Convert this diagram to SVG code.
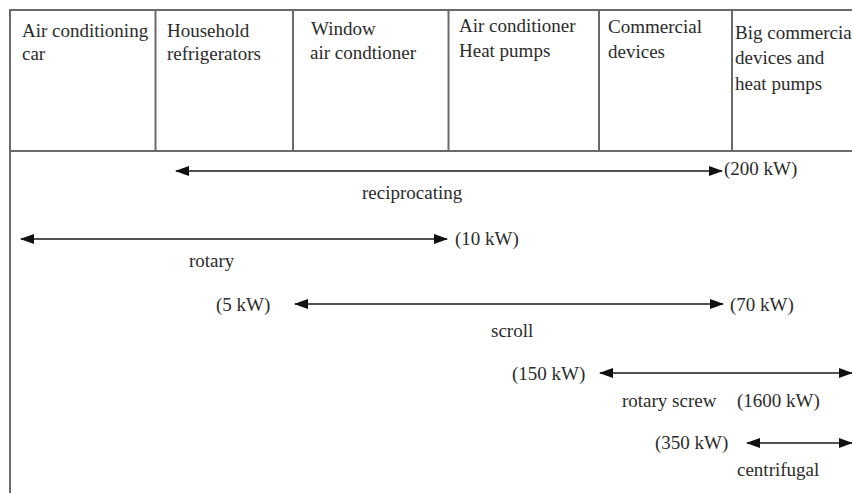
<svg xmlns="http://www.w3.org/2000/svg" width="852" height="493" viewBox="0 0 852 493">
<style>
text{font-family:"Liberation Serif","Times New Roman",serif;font-size:19px;fill:#2b2b2b}
.grid{stroke:#6a6a6a;stroke-width:2;fill:none}
.arr{stroke:#1a1a1a;stroke-width:1.6;fill:none;marker-start:url(#ah);marker-end:url(#ah)}
</style>
<defs>
<marker id="ah" viewBox="0 0 14 10" refX="13" refY="5" markerWidth="14" markerHeight="10" markerUnits="userSpaceOnUse" orient="auto-start-reverse">
<path d="M0,0 L14,5 L0,10 Z" fill="#111"/>
</marker>
</defs>
<rect width="852" height="493" fill="#fff"/>
<g id="table" class="grid">
<line x1="10" y1="10" x2="852" y2="10"/>
<line x1="10" y1="151" x2="852" y2="151"/>
<line x1="10" y1="9" x2="10" y2="493"/>
<line x1="155.5" y1="10" x2="155.5" y2="151"/>
<line x1="293" y1="10" x2="293" y2="151"/>
<line x1="448.5" y1="10" x2="448.5" y2="151"/>
<line x1="599" y1="10" x2="599" y2="151"/>
<line x1="732" y1="10" x2="732" y2="151"/>
</g>
<g id="col-car"><text x="22" y="37">Air conditioning</text><text x="22" y="60">car</text></g>
<g id="col-household"><text x="167" y="37">Household</text><text x="167" y="60">refrigerators</text></g>
<g id="col-window"><text x="311" y="35">Window</text><text x="310" y="59">air condtioner</text></g>
<g id="col-ac"><text x="459" y="32">Air conditioner</text><text x="459" y="57">Heat pumps</text></g>
<g id="col-commercial"><text x="608" y="33">Commercial</text><text x="608" y="58">devices</text></g>
<g id="col-big"><text x="735" y="39">Big commercia</text><text x="735" y="64">devices and</text><text x="735" y="90">heat pumps</text></g>
<g id="connectors">
<line class="arr" x1="176" y1="171" x2="722" y2="171"/>
<line class="arr" x1="21" y1="239" x2="447" y2="239"/>
<line class="arr" x1="295" y1="304" x2="723" y2="304"/>
<line class="arr" x1="600" y1="373" x2="852" y2="373"/>
<line class="arr" x1="747" y1="443" x2="852" y2="443"/>
</g>
<g id="reciprocating"><text x="362" y="199">reciprocating</text><text x="724" y="175">(200 kW)</text></g>
<g id="rotary"><text x="189" y="267">rotary</text><text x="455" y="245">(10 kW)</text></g>
<g id="scroll"><text x="491" y="337">scroll</text><text x="216" y="311">(5 kW)</text><text x="730" y="311">(70 kW)</text></g>
<g id="rotary-screw"><text x="622" y="407">rotary screw</text><text x="512" y="380">(150 kW)</text><text x="737" y="407">(1600 kW)</text></g>
<g id="centrifugal"><text x="737" y="476">centrifugal</text><text x="655" y="449">(350 kW)</text></g>
</svg>
